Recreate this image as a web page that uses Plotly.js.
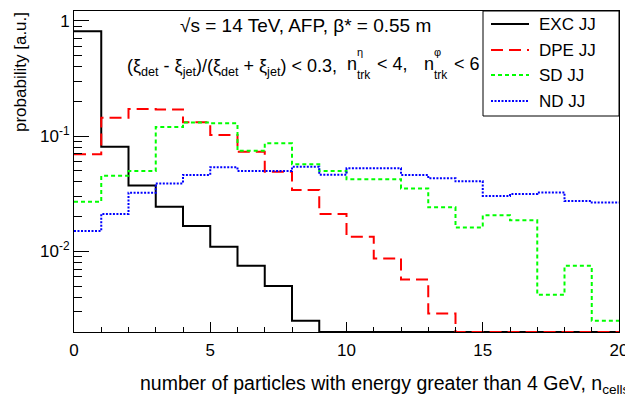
<!DOCTYPE html>
<html>
<head>
<meta charset="utf-8">
<script src="https://cdn.plot.ly/plotly-3.0.1.min.js"></script>
<style>html,body{margin:0;padding:0;background:#fff;}#chart{width:625px;height:396px;}</style>
</head>
<body>
<div id="chart"></div>
<script>
// ---- data (bin contents, bins of width 1 from 0 to 20) ----
const binEdges = [0,1,2,3,4,5,6,7,8,9,10,11,12,13,14,15,16,17,18,19,20];
const excJJ = [0.81,0.0807,0.0372,0.0244,0.0166,0.0110,0.0075,0.0050,0.0025,0,0,0,0,0,0,0,0,0,0,0];
const dpeJJ = [0.0695,0.144,0.172,0.170,0.132,0.102,0.0731,0.0491,0.0341,0.0211,0.0134,0.0087,0.0057,0.0029,0,0,0,0,0,0];
const sdJJ  = [0.0270,0.0453,0.0498,0.120,0.131,0.129,0.0746,0.0865,0.0569,0.0498,0.0422,0.0423,0.0352,0.0241,0.0161,0.0206,0.0186,0.0042,0.0075,0.0025];
const ndJJ  = [0.0150,0.0211,0.0323,0.0389,0.0460,0.0536,0.0498,0.0498,0.0542,0.0462,0.0525,0.0525,0.0460,0.0430,0.0405,0.0303,0.0315,0.0325,0.0274,0.0265];
const seriesNames = ['EXC JJ','DPE JJ','SD JJ','ND JJ'];
const yTickVals = [1,0.1,0.01];
const yTickText = ['1','10<sup>-1</sup>','10<sup>-2</sup>'];
const xTickVals = [0,5,10,15,20];

// ---- styles ----
const FONT = 'Liberation Sans, Arial, Helvetica, sans-serif';
const styles = [
  {color:'#000000', dash:'solid', width:2},
  {color:'#ff0000', dash:'12px,6px', width:2},
  {color:'#00ff00', dash:'4px,3px', width:2},
  {color:'#0000ff', dash:'2px,1.5px', width:2}
];
const yLogMin = -2.699, yLogMax = 0.085;
const yFloor = Math.pow(10, yLogMin);

function histTrace(vals, st){
  const y = vals.map(v => v > 0 ? v : yFloor);
  y.push(y[y.length-1]);
  return {type:'scatter', mode:'lines', x:binEdges, y:y,
          line:{shape:'hv', color:st.color, dash:st.dash, width:st.width},
          hoverinfo:'skip', showlegend:false, cliponaxis:true};
}
const allSeries = [excJJ, dpeJJ, sdJJ, ndJJ];
const data = allSeries.map((s,i)=>histTrace(s, styles[i]));

// pixel -> paper helpers (plot area x 74..619, y 11..332)
const L=74, R=619, T=11, B=332;
const px = x => (x-L)/(R-L);
const py = y => (B-y)/(B-T);

// minor tick positions for log axis
const minorVals = [];
[0.001,0.01,0.1].forEach(d=>{for(let k=2;k<=9;k++) minorVals.push(d*k);});

const ann = [];
function txt(text, x, y, size, xanchor){
  ann.push({text:text, xref:'paper', yref:'paper', x:px(x), y:py(y), xanchor:xanchor||'left', yanchor:'middle',
            showarrow:false, font:{family:FONT, size:size||17, color:'#000'}});
}
// header text
txt('√s = 14 TeV, AFP, β* = 0.55 m', 305, 25, 19, 'center');
txt('(ξ<sub>det</sub> - ξ<sub>jet</sub>)/(ξ<sub>det</sub> + ξ<sub>jet</sub>) < 0.3,', 125, 67, 18, 'left');
txt('n', 345, 64, 18); txt('η', 355, 52, 11); txt('trk', 355, 75, 12); txt('< 4,', 375, 64, 18);
txt('n', 422, 64, 18); txt('φ', 432, 52, 11); txt('trk', 432, 75, 12); txt('< 6', 452, 64, 18);
// axis titles
txt('number of particles with energy greater than 4 GeV, n<sub>cells</sub>', 138, 384, 19.5, 'left');
ann.push({text:'probability [a.u.]', xref:'paper', yref:'paper', x:px(20), y:py(72), xanchor:'center', yanchor:'middle',
          textangle:-90, showarrow:false, font:{family:FONT, size:17, color:'#000'}});

// manual legend
const shapes = [{type:'rect', xref:'paper', yref:'paper', x0:px(483), x1:px(619), y0:py(116), y1:py(11),
                 fillcolor:'#fff', line:{color:'#000', width:1}, layer:'above'}];
const legY = [24, 50, 75, 101];
seriesNames.forEach((n,i)=>{
  shapes.push({type:'line', xref:'paper', yref:'paper', x0:px(491), x1:px(529), y0:py(legY[i]), y1:py(legY[i]),
               line:{color:styles[i].color, dash:styles[i].dash, width:styles[i].width}, layer:'above'});
  txt(n, 537, legY[i], 17, 'left');
});

const layout = {
  width:625, height:396,
  margin:{l:L, r:625-R, t:T, b:396-B, pad:0},
  paper_bgcolor:'#fff', plot_bgcolor:'#fff',
  showlegend:false,
  font:{family:FONT, size:17, color:'#000'},
  xaxis:{range:[0,20], tickvals:xTickVals, ticks:'inside', ticklen:10, tickcolor:'#000', tickwidth:1,
         showline:true, linecolor:'#000', linewidth:1, mirror:true, showgrid:false, zeroline:false,
         ticklabeloverflow:'allow', ticklabelstandoff:3,
         tickfont:{family:FONT, size:17, color:'#000'},
         minor:{ticks:'inside', ticklen:5, dtick:1, tickcolor:'#000', showgrid:false}},
  yaxis:{type:'log', range:[yLogMin, yLogMax], tickvals:yTickVals, ticktext:yTickText,
         ticks:'inside', ticklen:15, tickcolor:'#000', tickwidth:1,
         showline:true, linecolor:'#000', linewidth:1, mirror:true, showgrid:false, zeroline:false,
         tickfont:{family:FONT, size:17, color:'#000'},
         minor:{ticks:'inside', ticklen:8, tickvals:minorVals, tickcolor:'#000', showgrid:false}},
  annotations:ann, shapes:shapes
};
Plotly.newPlot('chart', data, layout, {staticPlot:true, displayModeBar:false});
</script>
</body>
</html>
